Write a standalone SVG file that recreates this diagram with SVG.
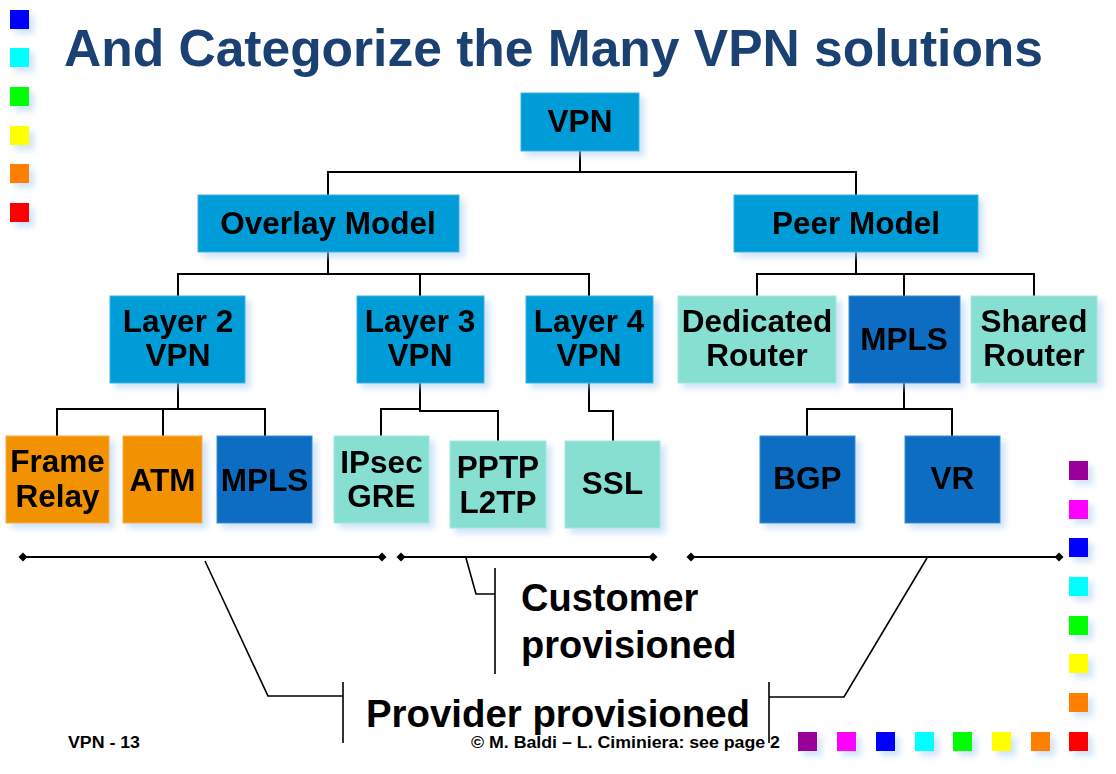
<svg xmlns="http://www.w3.org/2000/svg" width="1116" height="774" viewBox="0 0 1116 774">
<style>
.n{font-family:"Liberation Sans",Arial,sans-serif;font-weight:bold;font-size:31.5px;fill:#000;text-anchor:middle}
.mid{fill:#039CD7;stroke:#3DB3E3;stroke-width:1}
.dark{fill:#116DC3;stroke:#3B8AD3;stroke-width:1}
.teal{fill:#86DFD0;stroke:#A6E9DE;stroke-width:1}
.orng{fill:#F39200;stroke:#F6AE45;stroke-width:1}
.c{fill:none;stroke:#000;stroke-width:2}
.b{fill:none;stroke:#000;stroke-width:1.6}
.r{fill:none;stroke:#000;stroke-width:2;marker-start:url(#dia);marker-end:url(#dia)}
.lbl{font-family:"Liberation Sans",Arial,sans-serif;font-weight:bold;font-size:38px;fill:#000}
.ft{font-family:"Liberation Sans",Arial,sans-serif;font-weight:bold;font-size:16px;fill:#000}
.sq{filter:url(#sh)}
</style>
<defs>
<filter id="sh" x="-20%" y="-20%" width="150%" height="160%">
<feDropShadow dx="5" dy="5" stdDeviation="3" flood-color="#A9CDF0" flood-opacity="0.55"/>
</filter>
<marker id="dia" viewBox="-5 -5 10 10" markerWidth="10" markerHeight="10" refX="0" refY="0" markerUnits="userSpaceOnUse" orient="auto">
<path d="M-4.5 0 L0 -4.5 L4.5 0 L0 4.5 Z" fill="#000"/>
</marker>
</defs>
<rect width="1116" height="774" fill="#fff"/>
<text x="64" y="66" font-family="Liberation Sans,Arial,sans-serif" font-weight="bold" font-size="52" fill="#1B4172" textLength="979" lengthAdjust="spacingAndGlyphs">And Categorize the Many VPN solutions</text>
<g id="deco" class="sq">
<rect x="10" y="10" width="19" height="19" fill="#0000FF"/>
<rect x="10" y="48" width="19" height="19" fill="#00FFFF"/>
<rect x="10" y="87" width="19" height="19" fill="#00FF00"/>
<rect x="10" y="126" width="19" height="19" fill="#FFFF00"/>
<rect x="10" y="164" width="19" height="19" fill="#FF8000"/>
<rect x="10" y="203" width="19" height="19" fill="#FF0000"/>
<rect x="1069" y="461" width="19" height="19" fill="#990099"/>
<rect x="1069" y="500" width="19" height="19" fill="#FF00FF"/>
<rect x="1069" y="538" width="19" height="19" fill="#0000FF"/>
<rect x="1069" y="577" width="19" height="19" fill="#00FFFF"/>
<rect x="1069" y="616" width="19" height="19" fill="#00FF00"/>
<rect x="1069" y="654" width="19" height="19" fill="#FFFF00"/>
<rect x="1069" y="693" width="19" height="19" fill="#FF8000"/>
<rect x="1069" y="732" width="19" height="19" fill="#FF0000"/>
<rect x="798" y="732" width="19" height="19" fill="#990099"/>
<rect x="837" y="732" width="19" height="19" fill="#FF00FF"/>
<rect x="876" y="732" width="19" height="19" fill="#0000FF"/>
<rect x="915" y="732" width="19" height="19" fill="#00FFFF"/>
<rect x="953" y="732" width="19" height="19" fill="#00FF00"/>
<rect x="992" y="732" width="19" height="19" fill="#FFFF00"/>
<rect x="1031" y="732" width="19" height="19" fill="#FF8000"/>
</g>
<g id="connectors">
<path class="c" d="M580 151 V172 M328 195 V172 H856 V195"/>
<path class="c" d="M328 252 V274 M178 296 V274 H589 V296 M420 274 V296"/>
<path class="c" d="M856 252 V274 M757 296 V274 H1034 V296 M904 274 V296"/>
<path class="c" d="M178 383 V409 M57 436 V409 H265 V436 M163 409 V436"/>
<path class="c" d="M381 436 V409 H420 V383 M420 409 V411 H498 V441"/>
<path class="c" d="M589 383 V411 H613 V441"/>
<path class="c" d="M904 383 V409 M807 436 V409 H952 V436"/>
<path class="r" d="M23 557 H382"/>
<path class="r" d="M401 557 H653"/>
<path class="r" d="M691 557 H1059"/>
<path class="b" d="M205 561 L268 696 H343 M343 682 V743"/>
<path class="b" d="M466 558 L476 594 H495 M495 568 V674"/>
<path class="b" d="M927 558 L844 697 H769 M769 682 V743"/>
</g>
<g id="n-vpn" class="sq"><rect class="mid" x="521" y="93" width="118" height="58"/><text class="n" x="580" y="132">VPN</text></g>
<g id="n-overlay" class="sq"><rect class="mid" x="198" y="195" width="261" height="57"/><text class="n" x="328" y="234">Overlay Model</text></g>
<g id="n-peer" class="sq"><rect class="mid" x="734" y="195" width="244" height="57"/><text class="n" x="856" y="234">Peer Model</text></g>
<g id="n-l2" class="sq"><rect class="mid" x="110" y="296" width="135" height="87"/><text class="n" x="178" y="332">Layer 2</text><text class="n" x="178" y="366">VPN</text></g>
<g id="n-l3" class="sq"><rect class="mid" x="357" y="296" width="127" height="87"/><text class="n" x="420" y="332">Layer 3</text><text class="n" x="420" y="366">VPN</text></g>
<g id="n-l4" class="sq"><rect class="mid" x="526" y="296" width="127" height="87"/><text class="n" x="589" y="332">Layer 4</text><text class="n" x="589" y="366">VPN</text></g>
<g id="n-ded" class="sq"><rect class="teal" x="678" y="296" width="158" height="87"/><text class="n" x="757" y="332">Dedicated</text><text class="n" x="757" y="366">Router</text></g>
<g id="n-mpls-peer" class="sq"><rect class="dark" x="849" y="296" width="111" height="87"/><text class="n" x="904" y="350">MPLS</text></g>
<g id="n-shared" class="sq"><rect class="teal" x="971" y="296" width="126" height="87"/><text class="n" x="1034" y="332">Shared</text><text class="n" x="1034" y="366">Router</text></g>
<g id="n-fr" class="sq"><rect class="orng" x="6" y="436" width="103" height="87"/><text class="n" x="57.5" y="472">Frame</text><text class="n" x="57.5" y="507">Relay</text></g>
<g id="n-atm" class="sq"><rect class="orng" x="123" y="436" width="79" height="87"/><text class="n" x="162.5" y="491">ATM</text></g>
<g id="n-mpls2" class="sq"><rect class="dark" x="217" y="436" width="95" height="87"/><text class="n" x="264.5" y="491">MPLS</text></g>
<g id="n-ipsec" class="sq"><rect class="teal" x="334" y="436" width="95" height="87"/><text class="n" x="381.5" y="473">IPsec</text><text class="n" x="381.5" y="507">GRE</text></g>
<g id="n-pptp" class="sq"><rect class="teal" x="450" y="441" width="96" height="87"/><text class="n" x="498" y="478">PPTP</text><text class="n" x="498" y="513">L2TP</text></g>
<g id="n-ssl" class="sq"><rect class="teal" x="565" y="441" width="95" height="87"/><text class="n" x="612.5" y="494">SSL</text></g>
<g id="n-bgp" class="sq"><rect class="dark" x="760" y="436" width="95" height="87"/><text class="n" x="807.5" y="489">BGP</text></g>
<g id="n-vr" class="sq"><rect class="dark" x="905" y="436" width="95" height="87"/><text class="n" x="952.5" y="489">VR</text></g>
<g id="labels">
<text class="lbl" x="521" y="611">Customer</text>
<text class="lbl" x="521" y="658">provisioned</text>
<text class="lbl" x="366" y="727" textLength="384" lengthAdjust="spacingAndGlyphs">Provider provisioned</text>
<text class="ft" x="68" y="748" textLength="72" lengthAdjust="spacingAndGlyphs">VPN - 13</text>
<text class="ft" x="471" y="748" textLength="309" lengthAdjust="spacingAndGlyphs">© M. Baldi – L. Ciminiera: see page 2</text>
</g>
</svg>
